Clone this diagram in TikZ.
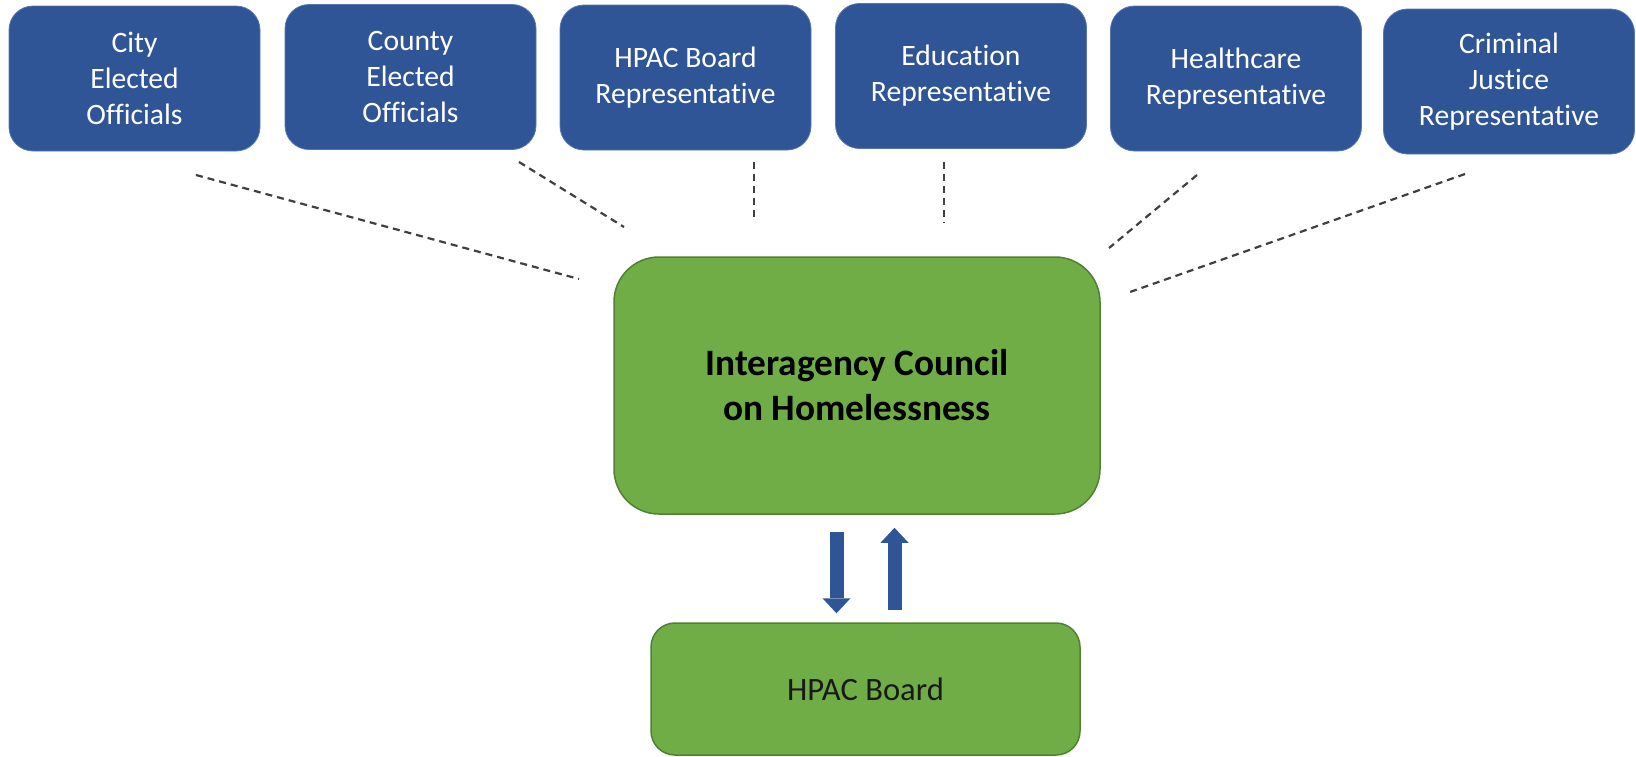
\documentclass[tikz,border=0pt]{standalone}
\usepackage{fontspec}
\setmainfont[Ligatures=NoCommon]{Carlito}
\usetikzlibrary{arrows.meta}
\definecolor{boxblue}{HTML}{2F5597}
\definecolor{boxgreen}{HTML}{70AD47}
\definecolor{greenedge}{HTML}{527F34}
\definecolor{dashgray}{HTML}{404040}
\definecolor{arrowblue}{HTML}{2F5597}
\newcommand\myRep{Representat\kern0pt ive}
\begin{document}
\begin{tikzpicture}[x=1pt,y=-1pt,
  member/.style={rectangle, rounded corners=24pt, fill=boxblue, draw=boxblue!80!white, line width=0.8pt,
    text=white, align=center, inner sep=0pt, minimum width=251pt, minimum height=145pt,
    font=\fontsize{29.6}{36}\selectfont},
  council/.style={rectangle, rounded corners=45pt, fill=boxgreen, draw=greenedge, line width=1.5pt,
    text=black, align=center, inner sep=0pt, minimum width=486pt, minimum height=257pt,
    font=\bfseries\fontsize{37.3}{45}\selectfont},
  board/.style={rectangle, rounded corners=24pt, fill=boxgreen, draw=greenedge, line width=1.5pt,
    text=black!90, align=center, inner sep=0pt, minimum width=429pt, minimum height=132pt,
    font=\fontsize{32.6}{39}\selectfont},
  link/.style={draw=dashgray, dash pattern=on 7pt off 5pt, line width=2.2pt},
  flow/.style={draw=arrowblue, line width=14pt, line cap=butt,
    -{Triangle[width=28pt,length=15pt,line width=0pt]}}
]
\fill[white] (0,0) rectangle (1636,756);
\useasboundingbox (0,0) rectangle (1636,756);

% member boxes
\node[member] (city)   at (134.5,78.5) {City\\Elected\\Officials};
\node[member] (county) at (410.5,77)   {County\\Elected\\Officials};
\node[member] (hrep)   at (685.5,77.5) {HPAC Board\\\myRep};
\node[member] (edu)    at (961,76)     {Education\\\myRep};
\node[member] (health) at (1236,78.5)  {Healthcare\\\myRep};
\node[member] (crim)   at (1509,81.5)  {Criminal\\Justice\\\myRep};

% central boxes
\node[council] (ich)   at (857,385.5) {Interagency Council\\on Homelessness};
\node[board]   (board) at (865.5,689) {HPAC Board};

% dashed connector ends
\coordinate (c1a) at (196,175);  \coordinate (c1b) at (579,279);
\coordinate (c2a) at (519,162);  \coordinate (c2b) at (624,227);
\coordinate (c3a) at (754,162);  \coordinate (c3b) at (754,221);
\coordinate (c4a) at (944,162);  \coordinate (c4b) at (944,223);
\coordinate (c5a) at (1197,175); \coordinate (c5b) at (1109,248);
\coordinate (c6a) at (1465,174); \coordinate (c6b) at (1130,292);

\draw[link] (c1a) -- (c1b);
\draw[link] (c2a) -- (c2b);
\draw[link] (c3a) -- (c3b);
\draw[link] (c4a) -- (c4b);
\draw[link] (c5a) -- (c5b);
\draw[link] (c6a) -- (c6b);

% arrows between council and board
\draw[flow, shorten <=17pt, shorten >=9pt]
  ([xshift=-20.5pt]ich.south) -- ([xshift=-20.5pt]ich.south |- board.north);
\draw[flow, shorten <=12pt, shorten >=13pt]
  ([xshift=37.5pt]ich.south |- board.north) -- ([xshift=37.5pt]ich.south);
\end{tikzpicture}
\end{document}
